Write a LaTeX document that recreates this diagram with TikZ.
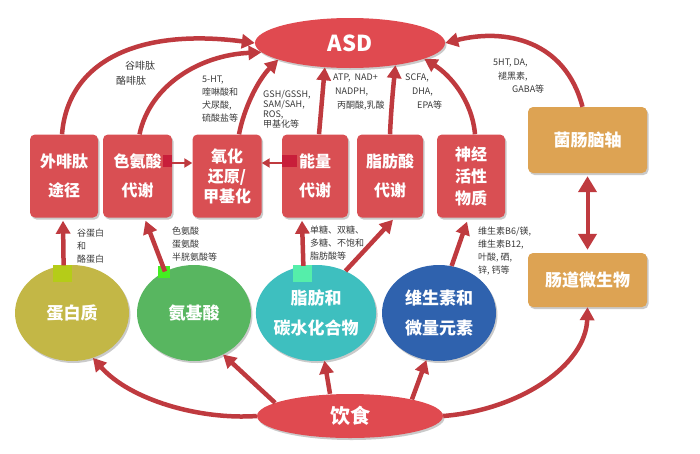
\documentclass[tikz,border=0pt]{standalone}
\usepackage{fontspec}
\setmainfont{Noto Sans CJK SC}
\usetikzlibrary{arrows.meta,shapes.geometric,shadows}
\definecolor{boxred}{HTML}{D94F53}
\definecolor{asdred}{HTML}{E04A50}
\definecolor{darkstrip}{HTML}{C81E3A}
\definecolor{orangebox}{HTML}{DDA353}
\definecolor{olive}{HTML}{C3B746}
\definecolor{greenc}{HTML}{58B660}
\definecolor{tealc}{HTML}{3EBFBF}
\definecolor{bluec}{HTML}{2F62AE}
\definecolor{arr}{HTML}{BF3A3F}
\definecolor{txt}{HTML}{3A3A3A}
\begin{document}
\begin{tikzpicture}[x=1pt,y=-1pt,
  shad/.style={drop shadow={shadow xshift=1.5pt,shadow yshift=-2pt,opacity=0.35,fill=black!60}},
  redbox/.style={rectangle,rounded corners=5pt,fill=boxred,text=white,inner sep=0pt,
    minimum height=83pt,align=center,shad,font=\bfseries\fontsize{16}{29}\selectfont},
  orbox/.style={rectangle,rounded corners=5pt,fill=orangebox,text=white,inner sep=0pt,
    minimum width=119pt,align=center,shad,font=\bfseries\fontsize{17}{20}\selectfont},
  circ/.style={ellipse,inner sep=0pt,minimum width=114pt,minimum height=96pt,text=white,
    align=center,shad,font=\bfseries\fontsize{17}{30}\selectfont},
  small/.style={inner sep=0pt,anchor=north west,align=left,text=txt,font=\fontsize{9}{13}\selectfont},
  bigarrow/.style={draw=arr,line width=4.5pt,-{Triangle[length=13pt,width=14pt]}},
  smallarrow/.style={draw=arr,line width=2.5pt,-{Triangle[length=8pt,width=9pt]}}
]
\useasboundingbox (0,0) rectangle (700,453);

% main ellipses
\node[ellipse,fill=asdred,minimum width=190pt,minimum height=50pt,inner sep=0pt,text=white,
  shad,font=\bfseries\fontsize{22}{24}\selectfont] (ASD) at (350,43) {ASD};
\node[ellipse,fill=asdred,minimum width=186pt,minimum height=44pt,inner sep=0pt,text=white,
  shad,font=\bfseries\fontsize{20}{22}\selectfont] (yinshi) at (350,416) {饮食};

% red boxes
\node[redbox,minimum width=68pt] (wai) at (64,176) {外啡肽\\途径};
\node[redbox,minimum width=69pt] (se) at (137.5,176) {色氨酸\\代谢};
\node[redbox,minimum width=69pt,font=\bfseries\fontsize{16}{20}\selectfont] (yang) at (227,176) {氧化\\还原/\\甲基化};
\node[redbox,minimum width=66pt] (neng) at (315,176) {能量\\代谢};
\node[redbox,minimum width=66pt] (zhi) at (390,176) {脂肪酸\\代谢};
\node[redbox,minimum width=68pt,font=\bfseries\fontsize{16}{22}\selectfont] (shen) at (471,176) {神经\\活性\\物质};

% strips
\fill[darkstrip] (163,155) rectangle (172,167);
\fill[darkstrip] (282,155) rectangle (297,167);

% orange boxes
\node[orbox,minimum height=66pt] (jun) at (587.5,140) {菌肠脑轴};
\node[orbox,minimum height=54pt] (chang) at (587.5,280) {肠道微生物};

% circles
\node[circ,fill=olive] (danbai) at (72,313) {蛋白质};
\node[circ,fill=greenc] (anji) at (194,313) {氨基酸};
\node[circ,fill=tealc] (zhifang) at (316,313) {脂肪和\\碳水化合物};
\node[circ,fill=bluec] (wei) at (439,313) {维生素和\\微量元素};

\fill[fill={rgb,255:red,181;green,204;blue,24}] (53,265) rectangle (72,282);
\fill[fill={rgb,255:red,68;green,238;blue,34}] (158,266) rectangle (170,278);
\fill[fill={rgb,255:red,85;green,238;blue,170}] (293,265) rectangle (312,282);

% arrows to ASD
\draw[bigarrow] ([xshift=-2pt]wai.north) .. controls (68,60) and (140,28) .. (ASD.west);
\draw[bigarrow] ([xshift=2pt]se.north) .. controls (150,85) and (200,55) .. (ASD.186);
\draw[bigarrow] ([xshift=12pt]yang.north) .. controls (244,108) and (258,80) .. (ASD.193);
\draw[bigarrow] ([xshift=4pt]neng.north) -- (ASD.224);
\draw[bigarrow] (zhi.north) .. controls (391,110) and (393,90) .. (ASD.334);
\draw[bigarrow] ([xshift=4pt]shen.north) .. controls (472,100) and (450,75) .. (ASD.348);
\draw[bigarrow] ([xshift=-5pt]jun.north) .. controls (565,40) and (505,28) .. (ASD.east);

% horizontal arrows
\draw[smallarrow] ([yshift=13pt]se.east) -- ([yshift=13pt]yang.west);
\draw[smallarrow] ([yshift=13pt]neng.west) -- ([yshift=13pt]yang.east);

% double arrow
\draw[draw=arr,line width=4pt,{Triangle[length=16pt,width=18pt]}-{Triangle[length=16pt,width=18pt]}]
  ([yshift=-3pt]jun.south) -- ([yshift=3pt]chang.north);

% circles to boxes
\draw[bigarrow] (danbai.100) -- ([xshift=-1pt,yshift=-3pt]wai.south);
\draw[bigarrow] (anji.125) -- ([xshift=8pt,yshift=-3pt]se.south);
\draw[bigarrow] (zhifang.105) -- ([xshift=-13pt,yshift=-3pt]neng.south);
\draw[bigarrow] (zhifang.55) -- ([xshift=3pt,yshift=-2pt]zhi.south);
\draw[bigarrow] (wei.75) -- ([xshift=-4pt,yshift=-4pt]shen.south);

% diet arrows
\draw[bigarrow] (yinshi.west) .. controls (200,420) and (130,400) .. (danbai.-65);
\draw[bigarrow] (yinshi.170) -- (anji.-55);
\draw[bigarrow] ([xshift=-20pt]yinshi.north) -- (zhifang.-80);
\draw[bigarrow] (yinshi.15) -- (wei.-105);
\draw[bigarrow] (yinshi.east) .. controls (520,410) and (586,365) .. (chang.south);

% labels
\node[small,font=\fontsize{10}{15}\selectfont] (l1) at (116,61) {\hspace*{9pt}谷啡肽\\酪啡肽};
\node[small] (l2) at (202,76) {5-HT,\\喹啉酸和\\犬尿酸,\\硫酸盐等};
\node[small,font=\fontsize{9}{10}\selectfont] (l3) at (263,90) {GSH/GSSH,\\SAM/SAH,\\ROS,\\甲基化等};
\node[small,font=\fontsize{9}{14}\selectfont] (l4) at (333,74) {ATP,\ \ NAD+\\\hspace*{2pt}NADPH,\\\hspace*{4pt}丙酮酸,乳酸};
\node[small,font=\fontsize{9}{14}\selectfont] (l5) at (405,74) {SCFA,\\\hspace*{7pt}DHA,\\\hspace*{12pt}EPA等};
\node[small,font=\fontsize{9}{13.5}\selectfont] (l6) at (493,59) {5HT, DA,\\\hspace*{5pt}褪黑素,\\\hspace*{19pt}GABA等};
\node[small] (l7) at (77,229) {谷蛋白\\和\\酪蛋白};
\node[small] (l8) at (172,227) {色氨酸\\蛋氨酸\\半胱氨酸等};
\node[small] (l9) at (310,226) {单糖、双糖、\\多糖、不饱和\\脂肪酸等};
\node[small] (l10) at (478,227) {维生素B6/镁,\\维生素B12,\\叶酸, 硒,\\锌, 钙等};
\end{tikzpicture}
\end{document}
